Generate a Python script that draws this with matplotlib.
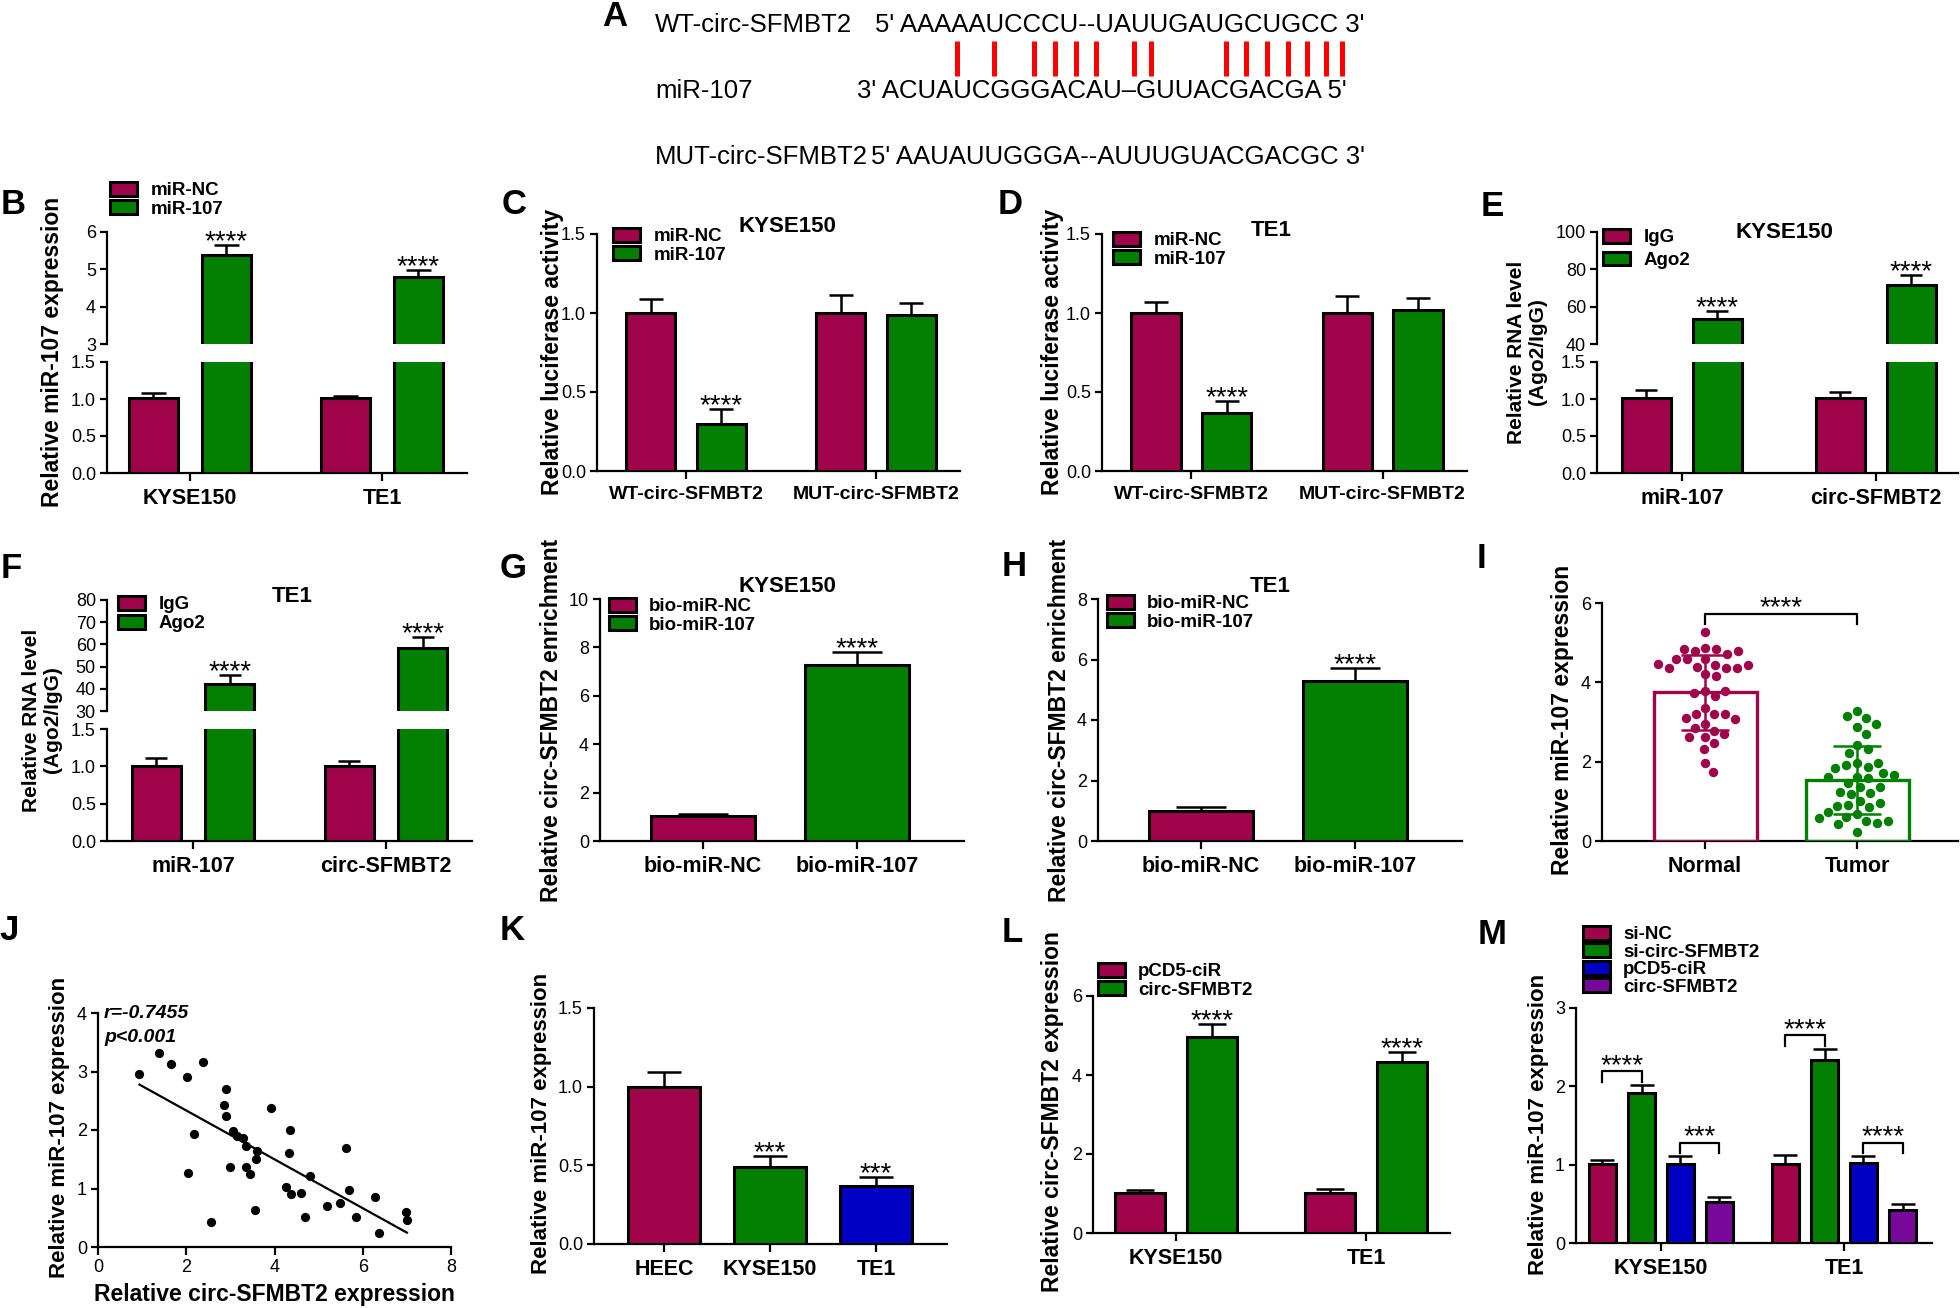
import numpy as np
import matplotlib
matplotlib.use('Agg')
import matplotlib.pyplot as plt
from matplotlib.patches import Patch
from matplotlib.ticker import FormatStrFormatter

plt.rcParams['font.family'] = ['Liberation Sans', 'DejaVu Sans']

MAROON = '#A0044B'
GREEN = '#007F00'
BLUE = '#0000C4'
PURPLE = '#78089A'

# ---------------- data ----------------
# A  (sequence alignment)
wt_label = 'WT-circ-SFMBT2'
wt_seq = "5' AAAAAUCCCU--UAUUGAUGCUGCC 3'"
mir_label = 'miR-107'
mir_seq = "3' ACUAUCGGGACAU\u2013GUUACGACGA 5'"
mut_label = 'MUT-circ-SFMBT2'
mut_seq = "5' AAUAUUGGGA--AUUUGUACGACGC 3'"

# B
b_cats = ['KYSE150', 'TE1']
b_series = ['miR-NC', 'miR-107']
b_nc = [1.01, 1.01]
b_nc_err = [0.065, 0.035]
b_mir = [5.38, 4.79]
b_mir_err = [0.27, 0.20]
b_sig = ['****', '****']

# C
c_cats = ['WT-circ-SFMBT2', 'MUT-circ-SFMBT2']
c_series = ['miR-NC', 'miR-107']
c_nc = [1.00, 1.00]
c_nc_err = [0.09, 0.115]
c_mir = [0.30, 0.99]
c_mir_err = [0.09, 0.075]
c_sig = ['****', '']

# D
d_nc = [1.00, 1.00]
d_nc_err = [0.07, 0.11]
d_mir = [0.37, 1.02]
d_mir_err = [0.075, 0.075]
d_sig = ['****', '']

# E
e_cats = ['miR-107', 'circ-SFMBT2']
e_series = ['IgG', 'Ago2']
e_igg = [1.01, 1.01]
e_igg_err = [0.115, 0.08]
e_ago = [53.4, 71.7]
e_ago_err = [4.5, 5.4]
e_sig = ['****', '****']

# F
f_igg = [1.01, 1.01]
f_igg_err = [0.10, 0.055]
f_ago = [42.2, 58.2]
f_ago_err = [3.8, 5.3]
f_sig = ['****', '****']

# G, H
gh_cats = ['bio-miR-NC', 'bio-miR-107']
g_vals = [1.05, 7.28]
g_errs = [0.05, 0.53]
h_vals = [1.00, 5.30]
h_errs = [0.11, 0.42]
gh_sig = ['', '****']

# I
i_cats = ['Normal', 'Tumor']
i_normal = [5.27, 4.87, 4.83, 4.78, 4.85, 4.72, 4.78, 4.58, 4.58, 4.58, 4.43, 4.39,
            4.36, 4.35, 4.36, 4.43, 4.47, 4.20, 4.15, 3.78, 3.66, 3.73, 3.78, 3.36,
            3.20, 3.20, 3.21, 3.09, 3.07, 2.96, 2.78, 2.84, 2.69, 2.61, 2.61, 2.46,
            2.33, 1.96, 1.75]
i_tumor = [3.28, 3.11, 3.15, 2.88, 2.96, 2.69, 2.42, 2.33, 2.22, 1.96, 1.87, 1.91,
           1.97, 1.83, 1.72, 1.62, 1.58, 1.47, 1.62, 1.66, 1.35, 1.22, 1.18, 1.23,
           1.35, 1.01, 0.91, 0.85, 0.89, 0.95, 0.68, 0.61, 0.74, 0.50, 0.46, 0.43,
           0.50, 0.57, 0.22]

# J
j_x = [0.94, 1.38, 1.66, 2.02, 2.39, 2.18, 2.05, 2.56, 2.90, 2.85, 2.90, 3.00, 3.05,
       3.15, 3.28, 3.35, 3.35, 3.45, 3.60, 3.58, 3.56, 3.93, 4.34, 4.33, 4.25, 4.38,
       4.60, 4.70, 4.80, 5.18, 5.49, 5.62, 5.68, 5.85, 6.28, 6.37, 6.97, 7.00]
j_y = [2.96, 3.31, 3.13, 2.91, 3.16, 1.94, 1.26, 0.42, 2.70, 2.43, 2.24, 1.37, 1.98,
       1.90, 1.86, 1.73, 1.37, 1.24, 1.64, 1.50, 0.64, 2.37, 2.00, 1.60, 1.03, 0.90,
       0.93, 0.52, 1.21, 0.70, 0.76, 1.69, 0.97, 0.52, 0.85, 0.24, 0.59, 0.47]
j_r_text = 'r=-0.7455'
j_p_text = 'p<0.001'

# K
k_cats = ['HEEC', 'KYSE150', 'TE1']
k_vals = [1.00, 0.487, 0.367]
k_errs = [0.093, 0.074, 0.057]
k_sig = ['', '***', '***']

# L
l_cats = ['KYSE150', 'TE1']
l_series = ['pCD5-ciR', 'circ-SFMBT2']
l_ctrl = [1.01, 1.01]
l_ctrl_err = [0.07, 0.10]
l_circ = [4.95, 4.32]
l_circ_err = [0.33, 0.27]
l_sig = ['****', '****']

# M
m_cats = ['KYSE150', 'TE1']
m_series = ['si-NC', 'si-circ-SFMBT2', 'pCD5-ciR', 'circ-SFMBT2']
m_vals = [[1.01, 1.01], [1.915, 2.34], [1.01, 1.026], [0.523, 0.417]]
m_errs = [[0.045, 0.11], [0.105, 0.14], [0.096, 0.08], [0.064, 0.077]]
m_sig_pairs = [(0, 1, ['****', '****']), (2, 3, ['***', '****'])]

# ---------------- layout helpers ----------------
W, H = 1960, 1308
fig = plt.figure(figsize=(W / 100, H / 100), dpi=100)
fig.patch.set_facecolor('white')


def fx(x):
    return x / W


def fy(y):
    return 1 - y / H


def rect(x0, y0, x1, y1):
    return [x0 / W, 1 - y1 / H, (x1 - x0) / W, (y1 - y0) / H]


LW = 1.6


def style(ax, ysize=13):
    ax.set_facecolor('none')
    for s in ('top', 'right'):
        ax.spines[s].set_visible(False)
    for s in ('left', 'bottom'):
        ax.spines[s].set_linewidth(LW)
    ax.tick_params(axis='y', direction='out', width=LW, length=5, labelsize=ysize, pad=3)
    ax.tick_params(axis='x', direction='out', width=LW, length=6, pad=5)


def set_xcats(ax, pos, labels, size=15.5, weight='bold'):
    ax.set_xticks(pos)
    ax.set_xticklabels(labels, fontsize=size, fontweight=weight)


def ylab(ax, text, x, y, size=16.5):
    ax.set_ylabel(text, fontsize=size, fontweight='bold', va='center', ha='center',
                  multialignment='center', linespacing=1.1)
    ax.yaxis.set_label_coords(fx(x), fy(y), transform=fig.transFigure)


def bars(ax, x, vals, errs, colors, width, capsize):
    ax.bar(x, vals, width, color=colors, edgecolor='black', linewidth=2.2, zorder=3)
    ax.errorbar(x, vals, yerr=[np.zeros(len(vals)), errs], fmt='none', ecolor='black',
                elinewidth=1.8, capsize=capsize, capthick=1.8, zorder=2)


def star(ax, x, y, s, size=20, dy=-3):
    if s:
        ax.annotate(s, (x, y), xytext=(0, dy), textcoords='offset points', ha='center',
                    va='baseline', fontsize=size, annotation_clip=False)


def legend(ax, labels, colors, x, y, size=13.5, spacing=0.05):
    handles = [Patch(facecolor=c, edgecolor='black', linewidth=2.2) for c in colors]
    ax.legend(handles, labels, loc='upper left', bbox_to_anchor=(fx(x), fy(y)),
              bbox_transform=fig.transFigure, frameon=False, borderpad=0,
              borderaxespad=0, handlelength=1.45, handleheight=0.75,
              handletextpad=0.7, labelspacing=spacing,
              prop={'weight': 'bold', 'size': size})


def title_at(ax, text, px, py, size=16):
    pos = ax.get_position()
    xa = (fx(px) - pos.x0) / pos.width
    ya = (fy(py) - pos.y0) / pos.height
    ax.set_title(text, x=xa, y=ya, va='center', ha='center', pad=0,
                 fontsize=size, fontweight='bold')


def broken_axes(x0, x1, y_top, y_b1, y_b2, y_bot, top_lim, bot_lim, top_ticks, bot_ticks):
    axt = fig.add_axes(rect(x0, y_top, x1, y_b1))
    axb = fig.add_axes(rect(x0, y_b2, x1, y_bot))
    style(axt)
    style(axb)
    axt.spines['bottom'].set_visible(False)
    axt.tick_params(axis='x', bottom=False, labelbottom=False)
    axt.set_ylim(*top_lim)
    axb.set_ylim(*bot_lim)
    axt.set_yticks(top_ticks)
    axb.set_yticks(bot_ticks)
    axb.yaxis.set_major_formatter(FormatStrFormatter('%.1f'))
    return axt, axb


def swarm(vals, ypx, xpx, d):
    placed_x, placed_y, out = [], [], []
    steps = np.arange(1, 300) * 0.5
    cands = np.concatenate([[0.0], np.ravel(np.column_stack([steps, -steps]))])
    for v in vals:
        y = v * ypx
        px_arr = np.array(placed_x)
        py_arr = np.array(placed_y)
        for c in cands:
            if len(px_arr) == 0 or np.all((c - px_arr) ** 2 + (y - py_arr) ** 2 >= d * d):
                break
        placed_x.append(c)
        placed_y.append(y)
        out.append(c / xpx)
    return np.array(out)


# ---------------- overlay (panel A and letters) ----------------
ov = fig.add_axes([0, 0, 1, 1])
ov.set_xlim(0, W)
ov.set_ylim(H, 0)
ov.axis('off')

seq_size = 18.5
ov.text(655, 25, wt_label, fontsize=seq_size, va='center', ha='left')
ov.text(875, 25, wt_seq, fontsize=seq_size, va='center', ha='left')
ov.text(655, 91, mir_label, fontsize=seq_size, va='center', ha='left')
ov.text(857, 91, mir_seq, fontsize=seq_size, va='center', ha='left')
ov.text(655, 157, mut_label, fontsize=seq_size, va='center', ha='left')
ov.text(871, 157, mut_seq, fontsize=seq_size, va='center', ha='left')

pair_x = [957, 994, 1034, 1055, 1076, 1096, 1134, 1151, 1226, 1246, 1267, 1288, 1307,
          1326, 1342]
ov.vlines(pair_x, 41, 76, colors='#FF0000', linewidth=3.6)

letters = [('A', 615, 17), ('B', 13, 204), ('C', 514, 204), ('D', 1010, 204),
           ('E', 1492, 206), ('F', 11, 569), ('G', 513, 569), ('H', 1014, 566),
           ('I', 1481, 558), ('J', 9, 931), ('K', 512, 931), ('L', 1012, 932),
           ('M', 1492, 935)]
for t, x, y in letters:
    ov.text(x, y, t, fontsize=25, fontweight='bold', ha='center', va='center')

# ---------------- B ----------------
x2 = np.arange(2)
axt, axb = broken_axes(107, 467, 232, 344, 362, 473, (3, 6), (0, 1.5), [3, 4, 5, 6],
                       [0, 0.5, 1.0, 1.5])
for ax in (axt, axb):
    ax.set_xlim(-0.432, 1.443)
    bars(ax, x2 - 0.19, b_nc, b_nc_err, MAROON, 0.255, 9)
    bars(ax, x2 + 0.19, b_mir, b_mir_err, GREEN, 0.255, 9)
for i in range(2):
    star(axt, x2[i] + 0.19, b_mir[i] + b_mir_err[i], b_sig[i])
set_xcats(axb, x2, b_cats)
ylab(axb, 'Relative miR-107 expression', 52, 352)
legend(axt, b_series, [MAROON, GREEN], 110, 182)

# ---------------- C & D ----------------
for (x0, x1), nc, nce, mi, mie, sig, ttl, tpos, lpos, labx in [
        ((597, 960), c_nc, c_nc_err, c_mir, c_mir_err, c_sig, 'KYSE150', (787, 227), (613, 228), 552),
        ((1102, 1467), d_nc, d_nc_err, d_mir, d_mir_err, d_sig, 'TE1', (1271, 231), (1113, 232), 1052)]:
    ax = fig.add_axes(rect(x0, 234, x1, 471))
    style(ax)
    ax.set_xlim(-0.468, 1.442)
    ax.set_ylim(0, 1.5)
    ax.set_yticks([0, 0.5, 1.0, 1.5])
    ax.yaxis.set_major_formatter(FormatStrFormatter('%.1f'))
    bars(ax, x2 - 0.185, nc, nce, MAROON, 0.258, 8.6)
    bars(ax, x2 + 0.185, mi, mie, GREEN, 0.258, 8.6)
    for i in range(2):
        star(ax, x2[i] + 0.185, mi[i] + mie[i], sig[i])
    set_xcats(ax, x2, c_cats, 14)
    ylab(ax, 'Relative luciferase activity', labx, 352)
    legend(ax, c_series, [MAROON, GREEN], *lpos)
    title_at(ax, ttl, *tpos)

# ---------------- E ----------------
axt, axb = broken_axes(1597, 1958, 232, 344, 362, 473, (40, 100), (0, 1.5),
                       [40, 60, 80, 100], [0, 0.5, 1.0, 1.5])
for ax in (axt, axb):
    ax.set_xlim(-0.438, 1.423)
    bars(ax, x2 - 0.183, e_igg, e_igg_err, MAROON, 0.253, 8)
    bars(ax, x2 + 0.183, e_ago, e_ago_err, GREEN, 0.253, 8)
for i in range(2):
    star(axt, x2[i] + 0.183, e_ago[i] + e_ago_err[i], e_sig[i])
set_xcats(axb, x2, e_cats)
ylab(axb, 'Relative RNA level\n(Ago2/IgG)', 1527, 352, 15)
legend(axt, e_series, [MAROON, GREEN], 1603, 229, spacing=0.28)
title_at(axt, 'KYSE150', 1784, 233)

# ---------------- F ----------------
axt, axb = broken_axes(107, 472, 600, 711, 729, 841, (30, 80), (0, 1.5),
                       [30, 40, 50, 60, 70, 80], [0, 0.5, 1.0, 1.5])
for ax in (axt, axb):
    ax.set_xlim(-0.446, 1.446)
    bars(ax, x2 - 0.19, f_igg, f_igg_err, MAROON, 0.254, 8)
    bars(ax, x2 + 0.19, f_ago, f_ago_err, GREEN, 0.254, 8)
for i in range(2):
    star(axt, x2[i] + 0.19, f_ago[i] + f_ago_err[i], f_sig[i])
set_xcats(axb, x2, e_cats)
ylab(axb, 'Relative RNA level\n(Ago2/IgG)', 42, 720, 15)
legend(axt, e_series, [MAROON, GREEN], 118, 596, spacing=0.08)
title_at(axt, 'TE1', 292, 597)

# ---------------- G & H ----------------
for (x0, x1), vals, errs, ymax, yt, ttl, tpos, lpos, labx in [
        ((600, 964), g_vals, g_errs, 10, [0, 2, 4, 6, 8, 10], 'KYSE150', (787, 587), (609, 598), 552),
        ((1098, 1462), h_vals, h_errs, 8, [0, 2, 4, 6, 8], 'TE1', (1270, 587), (1107, 595), 1059)]:
    ax = fig.add_axes(rect(x0, 599, x1, 841))
    style(ax)
    ax.set_xlim(-0.671, 1.697)
    ax.set_ylim(0, ymax)
    ax.set_yticks(yt)
    bars(ax, x2, vals, errs, [MAROON, GREEN], 0.677, 18)
    for i in range(2):
        star(ax, x2[i], vals[i] + errs[i], gh_sig[i])
    set_xcats(ax, x2, gh_cats)
    ylab(ax, 'Relative circ-SFMBT2 enrichment', labx, 720)
    legend(ax, gh_cats, [MAROON, GREEN], *lpos)
    title_at(ax, ttl, *tpos)

# ---------------- I ----------------
axi = fig.add_axes(rect(1602, 603, 1958, 841))
style(axi)
axi.set_xlim(-0.678, 1.664)
axi.set_ylim(0, 6)
axi.set_yticks([0, 2, 4, 6])
for k, (vals, c) in enumerate(zip([i_normal, i_tumor], [MAROON, GREEN])):
    vals = np.array(vals)
    m = vals.mean()
    sd = vals.std(ddof=1)
    axi.bar(k, m, 0.678, facecolor='none', edgecolor=c, linewidth=2.4, zorder=4)
    offs = swarm(vals, 238 / 6, 152, 11.0)
    axi.scatter(k + offs, vals, s=46, color=c, linewidths=0, zorder=3)
    axi.errorbar(k, m, yerr=sd, fmt='none', ecolor=c, elinewidth=1.8, capsize=17,
                 capthick=1.8, zorder=5)
axi.plot([0, 0, 1, 1], [5.46, 5.73, 5.73, 5.46], color='black', lw=1.6, clip_on=False)
star(axi, 0.5, 5.73, '****', dy=-1)
set_xcats(axi, x2, i_cats)
ylab(axi, 'Relative miR-107 expression', 1563, 720)

# ---------------- J ----------------
axj = fig.add_axes(rect(98, 1013, 451, 1247))
style(axj)
axj.set_xlim(0, 8)
axj.set_ylim(0, 4)
axj.set_xticks([0, 2, 4, 6, 8])
axj.set_yticks([0, 1, 2, 3, 4])
axj.tick_params(axis='x', labelsize=13, pad=3)
axj.scatter(j_x, j_y, s=44, color='black', linewidths=0, zorder=3)
slope, inter = np.polyfit(j_x, j_y, 1)
xx = np.array([min(j_x), max(j_x)])
axj.plot(xx, slope * xx + inter, color='black', lw=1.6)
ylab(axj, 'Relative miR-107 expression', 59, 1127, 16)
axj.set_xlabel('Relative circ-SFMBT2 expression', fontsize=16.5, fontweight='bold',
               va='center')
axj.xaxis.set_label_coords(fx(274), fy(1295), transform=fig.transFigure)
ov.text(104, 1014, j_r_text, fontsize=14, fontweight='bold', fontstyle='italic',
        va='center', ha='left')
ov.text(104, 1038, j_p_text, fontsize=14, fontweight='bold', fontstyle='italic',
        va='center', ha='left')

# ---------------- K ----------------
axk = fig.add_axes(rect(594, 1008, 947, 1244))
style(axk)
x3 = np.arange(3)
axk.set_xlim(-0.66, 2.67)
axk.set_ylim(0, 1.5)
axk.set_yticks([0, 0.5, 1.0, 1.5])
axk.yaxis.set_major_formatter(FormatStrFormatter('%.1f'))
bars(axk, x3, k_vals, k_errs, [MAROON, GREEN, BLUE], 0.68, 12.5)
for i in range(3):
    star(axk, x3[i], k_vals[i] + k_errs[i], k_sig[i])
set_xcats(axk, x3, k_cats)
ylab(axk, 'Relative miR-107 expression', 542, 1123, 16)

# ---------------- L ----------------
axl = fig.add_axes(rect(1093, 996, 1450, 1233))
style(axl)
axl.set_xlim(-0.437, 1.442)
axl.set_ylim(0, 6)
axl.set_yticks([0, 2, 4, 6])
bars(axl, x2 - 0.19, l_ctrl, l_ctrl_err, MAROON, 0.263, 10)
bars(axl, x2 + 0.19, l_circ, l_circ_err, GREEN, 0.263, 10)
for i in range(2):
    star(axl, x2[i] + 0.19, l_circ[i] + l_circ_err[i], l_sig[i])
set_xcats(axl, x2, l_cats)
ylab(axl, 'Relative circ-SFMBT2 expression', 1053, 1112)
legend(axl, l_series, [MAROON, GREEN], 1098, 963)

# ---------------- M ----------------
axm = fig.add_axes(rect(1576, 1008, 1932, 1243))
style(axm)
axm.set_xlim(-0.464, 1.481)
axm.set_ylim(0, 3)
axm.set_yticks([0, 1, 2, 3])
m_offsets = [-0.32, -0.105, 0.105, 0.32]
m_colors = [MAROON, GREEN, BLUE, PURPLE]
for j in range(4):
    bars(axm, x2 + m_offsets[j], m_vals[j], m_errs[j], m_colors[j], 0.148, 8.4)
for a, b, sigs in m_sig_pairs:
    for g in range(2):
        top = max(m_vals[a][g] + m_errs[a][g], m_vals[b][g] + m_errs[b][g]) + 0.17
        xa = g + m_offsets[a]
        xb = g + m_offsets[b]
        axm.plot([xa, xa, xb, xb], [top - 0.13, top, top, top - 0.13], color='black',
                 lw=1.6, clip_on=False)
        star(axm, (xa + xb) / 2, top, sigs[g], dy=-1)
set_xcats(axm, x2, m_cats)
ylab(axm, 'Relative miR-107 expression', 1538, 1124, 16)
legend(axm, m_series, m_colors, 1583, 926, spacing=0.0)

fig.savefig('out.png', dpi=100)
